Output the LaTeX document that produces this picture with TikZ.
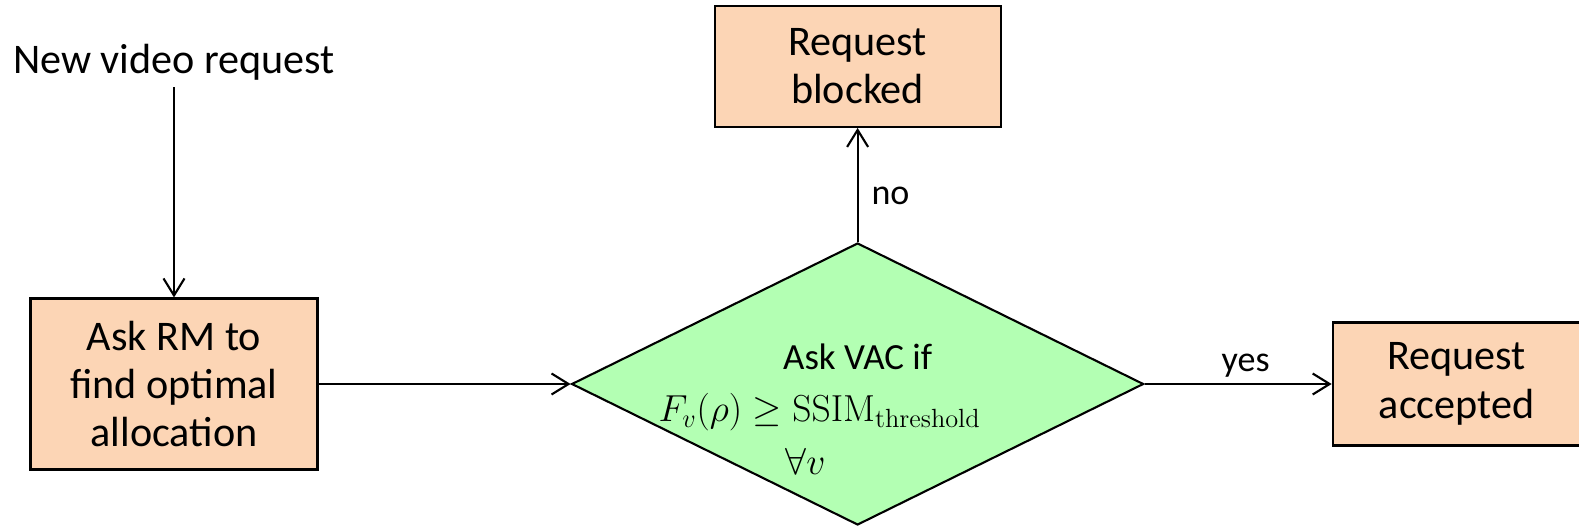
\RequirePackage{fix-cm}
\documentclass[tikz,border=0pt]{standalone}
\usepackage[no-math]{fontspec}
\setmainfont{Carlito}
\usepackage{tikz}
\usetikzlibrary{arrows.meta, positioning, shapes.geometric}
\definecolor{peach}{RGB}{252,213,181}
\definecolor{mint}{RGB}{179,255,179}

\begin{document}
\begin{tikzpicture}[auto, node distance=2cm, line width=1.2pt,
	>={Straight Barb[length=3.4mm,width=4.2mm]},
	every node/.style={font=\fontsize{20.5}{26.5}\selectfont},
	big/.style={font=\fontsize{24}{27.5}\selectfont},
	block/.style={draw, fill=peach, align=center, big},
	decision/.style={diamond, draw, fill=mint, inner sep=0pt, minimum width=11.44cm, minimum height=5.64cm}]
	\useasboundingbox (-3.48,-2.88) rectangle (28.10,7.68);

	\node [block, minimum width=5.74cm, minimum height=3.42cm]	(ask) 											{Ask RM to\\find optimal\\allocation};
	\node [big]													(new)		[above=4.2cm of ask]				{New video request};
	\node [decision]											(vac)		[right=5.04cm of ask]				{};
	\node [align=center, font=\fontsize{21}{30}\selectfont]		(cond)		at ([yshift=-0.5cm]vac.center)	{Ask VAC if\\{\fontsize{21.4}{30}\selectfont$F_v(\rho) \geq \mathrm{SSIM}_{\mathrm{threshold}}$}\hspace*{1.52cm}\mbox{}\\{\fontsize{21.4}{30}\selectfont$\forall v$}\hspace*{2.08cm}\mbox{}};
	\node [block, minimum width=5.72cm, minimum height=2.42cm]	(blocked)	[above=2.28cm of vac]				{Request\\blocked};
	\node [block, minimum width=4.96cm, minimum height=2.46cm]	(accepted)	[right=3.74cm of vac]				{Request\\accepted};

	\path[->] (new) edge (ask);
	\path[->] (ask) edge (vac);
	\path[->] (vac) edge node[right, pos=0.4, xshift=0.14cm] {no} (blocked);
	\path[->] (vac) edge node[above, pos=0.54] {yes} (accepted);
\end{tikzpicture}
\end{document}
